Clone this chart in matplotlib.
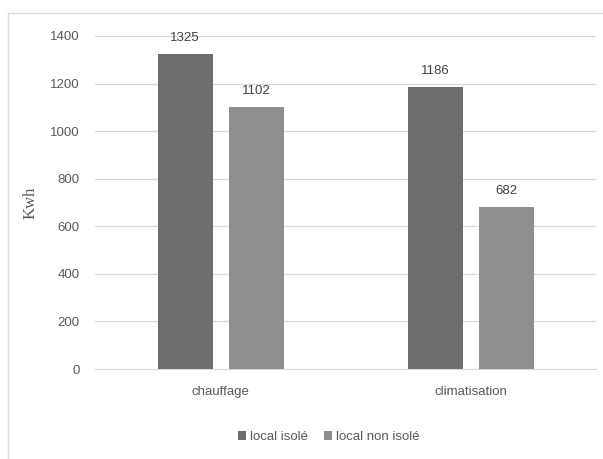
import matplotlib.pyplot as plt
import numpy as np
from matplotlib.lines import Line2D

categories = ["chauffage", "climatisation"]
isole = [1325, 1186]
non_isole = [1102, 682]
yticks = [0, 200, 400, 600, 800, 1000, 1200, 1400]

txt = "#595959"
plt.rcParams['font.family'] = ['Liberation Sans Narrow', 'Liberation Sans', 'DejaVu Sans']

fig = plt.figure(figsize=(6.03, 4.59), dpi=100)
ax = fig.add_axes([0.1575, 0.196, 0.8305, 0.7256])

x = np.arange(len(categories))
w = 0.22
b1 = ax.bar(x - 0.14, isole, w, color="#6d6d6d", label="local isolé", zorder=3)
b2 = ax.bar(x + 0.145, non_isole, w, color="#8e8e8e", label="local non isolé", zorder=3)

for bars in (b1, b2):
    for r in bars:
        ax.text(r.get_x() + r.get_width() / 2, r.get_height() + 40, f"{int(r.get_height())}",
                ha="center", va="bottom", fontsize=9.5, color="#404040")

ax.set_xlim(-0.5, 1.5)
ax.set_ylim(0, 1400)
ax.set_yticks(yticks)
ax.set_xticks(x)
ax.set_xticklabels(categories)
ax.tick_params(axis="both", length=0, labelsize=9.5, colors=txt)
ax.tick_params(axis="x", pad=12)
ax.tick_params(axis="y", pad=11)
ax.yaxis.grid(True, color="#d9d9d9", linewidth=0.9, zorder=0)
for s in ["top", "right", "left"]:
    ax.spines[s].set_visible(False)
ax.spines["bottom"].set_color("#d9d9d9")

ax.set_ylabel("Kwh", family="Liberation Serif", fontsize=12, color=txt, labelpad=8)

fig.legend(loc="center", bbox_to_anchor=(0.545, 0.048), ncol=2, frameon=False,
           fontsize=9.5, handlelength=0.6, handleheight=0.6, handletextpad=0.3,
           columnspacing=1.2, labelcolor=txt)

# chart frame
fig.add_artist(Line2D([8 / 603, 1], [1 - 13 / 459, 1 - 13 / 459], transform=fig.transFigure,
                      color="#d9d9d9", linewidth=1))
fig.add_artist(Line2D([8 / 603, 8 / 603], [0, 1 - 13 / 459], transform=fig.transFigure,
                      color="#d9d9d9", linewidth=1))

fig.savefig("out.png", dpi=100)
